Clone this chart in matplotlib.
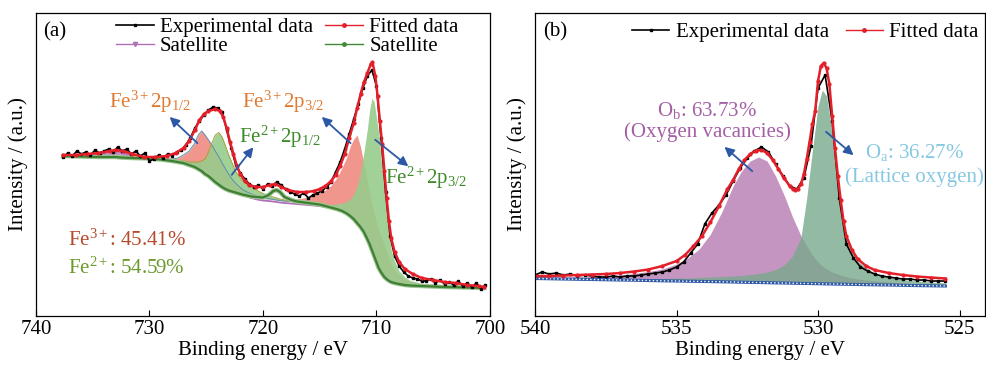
import numpy as np
import matplotlib
matplotlib.use('Agg')
import matplotlib.pyplot as plt
from matplotlib.lines import Line2D

plt.rcParams['font.family'] = ['Liberation Serif', 'DejaVu Serif']
plt.rcParams['font.size'] = 15
plt.rcParams['mathtext.fontset'] = 'custom'
plt.rcParams['mathtext.rm'] = 'Liberation Serif'
plt.rcParams['mathtext.it'] = 'Liberation Serif:italic'

# ---------------- (a) Fe 2p ----------------
# shared energy grid for background and fitted components
xa = [737.6, 736.0, 734.5, 733.5, 733.0, 732.5, 731.5, 730.0, 729.0, 728.0,
      727.5, 727.0, 726.5, 726.0, 725.7, 725.4, 725.1, 724.8, 724.5, 724.2,
      723.9, 723.6, 723.3, 723.0, 722.7, 722.4, 722.1, 721.8, 721.4, 721.0,
      720.5, 720.0, 719.5, 719.1, 718.8, 718.5, 718.1, 717.5, 717.0, 716.0,
      715.0, 714.5, 714.0, 713.5, 713.0, 712.6, 712.3, 712.0, 711.7, 711.4,
      711.1, 710.8, 710.6, 710.4, 710.2, 710.0, 709.8, 709.6, 709.3, 709.0,
      708.7, 708.4, 708.0, 707.5, 707.0, 706.0, 705.0, 704.0, 703.0, 702.0,
      701.0, 700.5]
base_a = [160, 159.5, 159, 159, 159, 158.5, 158, 157.5, 156.5, 155,
          154, 153, 151, 149, 147, 145, 142, 140, 137, 134,
          131.5, 129, 127, 125.5, 124.5, 123.5, 122.5, 121.5, 120.5, 119.5,
          118.5, 117.5, 117, 116.5, 116, 115.5, 115, 114.5, 114, 113,
          111.5, 110, 108.5, 107, 105, 102.5, 100, 97, 93, 89,
          84, 77, 72, 66, 60, 54, 48, 44, 39, 36,
          34, 33, 32, 31, 30.5, 30, 29.5, 29, 28.8, 28.5,
          28.2, 28]
# component heights above background
fe3_p12 = [0, 0, 0, 0, 0, 0, 0, 0.5, 1, 2,
           4, 8, 14, 24, 34, 40, 39, 36, 34, 31,
           28, 24, 20, 16, 12, 9, 7, 5, 3.5, 2.5,
           1.5, 1, 0.5, 0, 0, 0, 0, 0, 0, 0,
           0, 0, 0, 0, 0, 0, 0, 0, 0, 0,
           0, 0, 0, 0, 0, 0, 0, 0, 0, 0,
           0, 0, 0, 0, 0, 0, 0, 0, 0, 0,
           0, 0]
fe2_p12 = [0, 0, 0, 0, 0, 0, 0, 0, 0.5, 1,
           1.5, 2, 3, 5, 7, 10, 15, 24, 36, 47,
           52, 50, 43, 35, 28, 21, 17, 14, 11, 9,
           7, 5, 3.5, 2.5, 2, 1.5, 1, 0.5, 0, 0,
           0, 0, 0, 0, 0, 0, 0, 0, 0, 0,
           0, 0, 0, 0, 0, 0, 0, 0, 0, 0,
           0, 0, 0, 0, 0, 0, 0, 0, 0, 0,
           0, 0]
fe3_p32 = [0, 0, 0, 0, 0, 0, 0, 0, 0, 0,
           0, 0, 0, 0, 0, 0, 0, 0, 0, 0,
           0, 0, 0, 0, 0, 0, 0, 0, 0, 0,
           0, 0, 0, 0, 0.5, 0.5, 1, 2, 3, 6,
           12, 16, 22, 31, 44, 57, 70, 80, 88, 80,
           68, 58, 52, 46, 42, 40, 38, 36, 32, 25,
           18, 13, 9, 6, 4, 2, 1, 0.5, 0, 0,
           0, 0]
fe2_p32 = [0, 0, 0, 0, 0, 0, 0, 0, 0, 0,
           0, 0, 0, 0, 0, 0, 0, 0, 0, 0,
           0, 0, 0, 0, 0, 0, 0, 0, 0, 0,
           0, 0, 0, 0, 0, 0, 0, 0, 0, 1,
           1.5, 2, 3, 5, 8, 12, 17, 25, 37, 55,
           80, 110, 134, 152, 154, 145, 135, 115, 84, 54,
           32, 22, 13, 8, 5, 2.5, 1.5, 1, 0.5, 0,
           0, 0]
sat_fe3 = [0, 1, 3, 5, 6, 5, 2.5, 0.5, 0, 0,
           0, 0, 0, 0, 0, 0, 0, 0, 0, 0,
           0, 0, 0, 0, 0, 0, 0, -0.5, -1, -1.5,
           -2, -2, -2, -2, -2, -2, -2, -2, -2, -2,
           -1.5, -1, -0.5, 0, 0, 0, 0, 0, 0, 0,
           0, 0, 0, 0, 0, 0, 0, 0, 0, 0,
           0, 0, 0, 0, 0, 0, 0, 0, 0, 0,
           0, 0]
sat_fe2 = [0, 0, 0, 0, 0, 0, 0, 0, 0, 0,
           0, 0, 0, 0, 0, 0, 0, 0, 0, 0,
           0, 0, 0, 0, 0, 0, 0, 0, 0, 0,
           0.5, 1, 4, 8.5, 10, 8.5, 4, 1.5, 0.5, 0,
           0, 0, 0, 0, 0, 0, 0, 0, 0, 0,
           0, 0, 0, 0, 0, 0, 0, 0, 0, 0,
           0, 0, 0, 0, 0, 0, 0, 0, 0, 0,
           0, 0]

xa_fit = [737.6, 736.5, 735.5, 734.5, 733.5, 733.0, 732.3, 731.5, 730.5, 729.5,
          728.5, 727.7, 727.0, 726.5, 726.0, 725.6, 725.2, 724.8, 724.2, 723.8,
          723.5, 723.2, 722.9, 722.6, 722.3, 722.0, 721.6, 721.2, 720.6, 720.0,
          719.4, 718.9, 718.4, 717.8, 717.0, 716.2, 715.5, 715.0, 714.5, 714.0,
          713.6, 713.2, 712.8, 712.4, 712.0, 711.7, 711.4, 711.1, 710.8, 710.5,
          710.35, 710.1, 709.9, 709.7, 709.5, 709.3, 709.1, 708.9, 708.7, 708.4,
          708.0, 707.5, 706.8, 706.0, 705.0, 704.0, 703.0, 702.0, 701.0, 700.5]
ya_fit = [161, 161, 162, 163, 165, 166, 165, 162, 159, 159,
          160, 163, 168, 175, 186, 196, 202, 205, 207, 205,
          199, 188, 174, 162, 150, 142, 135, 131, 129, 129,
          131, 132, 129, 126, 124, 124, 125, 127, 130, 135,
          141, 150, 162, 178, 193, 208, 222, 234, 243, 252,
          254, 240, 220, 195, 172, 145, 118, 95, 78, 64,
          54, 47, 42, 38, 36, 34, 33, 31, 30, 29]

xa_exp = np.arange(737.6, 700.3, -0.4)
ya_exp = [159, 163, 160, 165, 162, 164, 161, 166, 163, 165,
          167, 164, 169, 165, 167, 162, 165, 160, 163, 155,
          157, 161, 158, 162, 160, 164, 166, 171, 178, 188,
          195, 201, 206, 209, 208, 204, 186, 168, 151, 143,
          137, 132, 129, 131, 127, 132, 130, 134, 131, 127,
          124, 122, 120, 123, 118, 121, 123, 125, 129, 134,
          144, 154, 167, 182, 197, 212, 228, 240, 246, 230,
          178, 124, 80, 60, 50, 44, 40, 38, 37, 35,
          35, 37, 33, 36, 32, 34, 31, 35, 30, 33,
          29, 33, 27, 31]

# ---------------- (b) O 1s ----------------
xb = [540.0, 539.0, 538.0, 537.0, 536.5, 536.0, 535.5, 535.0, 534.6, 534.2,
      533.8, 533.4, 533.0, 532.7, 532.4, 532.1, 531.8, 531.5, 531.2, 530.9,
      530.6, 530.4, 530.2, 530.0, 529.85, 529.7, 529.5, 529.3, 529.1, 528.9,
      528.6, 528.3, 528.0, 527.5, 527.0, 526.5, 526.0, 525.5]
base_b = [37.5, 37, 36.5, 36, 35.8, 35.5, 35.2, 35, 34.8, 34.6,
          34.4, 34.2, 34, 33.8, 33.6, 33.5, 33.3, 33.1, 33, 32.8,
          32.6, 32.5, 32.4, 32.3, 32.2, 32.1, 32, 31.9, 31.8, 31.7,
          31.5, 31.3, 31.2, 31, 30.7, 30.4, 30.2, 30]
o_b = [38.5, 39, 39.5, 41, 42.5, 44.5, 47, 52, 58, 67,
       82, 104, 130, 145, 155, 159, 155, 140, 121, 99,
       80, 70, 61, 54, 50, 47, 44, 42, 40, 38.5,
       37, 36, 35, 34, 33, 32, 31, 30.5]
o_a = [38, 38, 37.5, 37.5, 37.5, 37.5, 37.5, 38, 38, 38.5,
       39, 39.5, 40, 40.5, 41.5, 42.5, 44, 46.5, 51, 60,
       79, 118, 165, 210, 226, 220, 185, 130, 93, 70,
       55, 48, 43, 39, 36.5, 35, 34, 33]

xb_fit = [540.0, 539.5, 539.0, 538.5, 538.0, 537.5, 537.0, 536.5, 536.0, 535.5,
          535.0, 534.7, 534.4, 534.1, 533.8, 533.5, 533.2, 533.0, 532.8, 532.6,
          532.4, 532.2, 532.0, 531.8, 531.6, 531.4, 531.2, 531.0, 530.9, 530.8,
          530.7, 530.6, 530.5, 530.4, 530.3, 530.2, 530.1, 530.0, 529.9, 529.8,
          529.7, 529.6, 529.5, 529.4, 529.3, 529.2, 529.1, 529.0, 528.8, 528.6,
          528.3, 528.0, 527.5, 527.0, 526.5, 526.0, 525.5]
yb_fit = [40, 40, 40.5, 41, 41.5, 42, 43, 44.5, 46.5, 50,
          55, 61, 70, 80, 94, 110, 127, 136, 147, 156,
          162, 165.5, 166, 163, 156, 147, 138, 130, 127, 126,
          127.5, 132, 142, 157, 174, 192, 205, 235, 250, 253,
          248, 232, 200, 168, 140, 116, 95, 80, 66, 57,
          50, 46, 43, 41, 39.5, 38.5, 37.5]

xb_exp = np.arange(540.0, 525.4, -0.25)
yb_exp = [41, 44, 42, 43, 41, 42, 40, 41, 40, 39,
          39, 40, 39, 40, 40, 41, 42, 43, 44, 46,
          49, 54, 63, 72, 92, 103, 111, 121, 135, 148,
          158, 165, 169, 164, 152, 140, 130, 127, 138, 170,
          228, 241, 195, 118, 72, 58, 49, 45, 42, 40,
          39, 38, 37, 37, 36, 36, 35, 35, 35]

fig = plt.figure(figsize=(9.86, 3.65), dpi=100)
ax1 = fig.add_axes([0.0365, 0.1342, 0.4604, 0.8301])
ax2 = fig.add_axes([0.5426, 0.1342, 0.4564, 0.8301])

salmon = '#f0968c'
lgreen = '#98cc8c'
blue = '#2c58a6'

# --- panel a
ba = np.array(base_a)
ax1.fill_between(xa, ba, ba + np.array(fe3_p12), color=salmon, lw=0)
ax1.fill_between(xa, ba, ba + np.array(fe3_p32), color=salmon, lw=0)
ax1.fill_between(xa, ba, ba + np.array(fe2_p12), color=lgreen, alpha=0.9, lw=0)
ax1.fill_between(xa, ba, ba + np.array(fe2_p32), color=lgreen, alpha=0.9, lw=0)
ax1.plot(xa, ba + np.array(fe3_p12), color='#5a8fb0', lw=0.7)
ax1.plot(xa, ba + np.array(fe2_p12), color='#a6a23a', lw=0.7)
sp = np.array(sat_fe3)
ax1.fill_between(xa, ba, ba + sp, where=sp > 0, color='#c890c8', lw=0)
ax1.plot(xa, ba + sp, color='#b070b8', lw=1.3)
ax1.plot(xa, ba + np.array(sat_fe2), color='#9cc592', lw=3.2)
ax1.plot(xa, ba + np.array(sat_fe2), color='#3f7f32', lw=1.6)
ax1.plot(xa_exp, ya_exp, color='black', lw=1.2, marker='s', ms=2)
ax1.plot(xa_fit, ya_fit, color='#e3202a', lw=1.8, marker='o', ms=2)

ax1.set_xlim(740, 700)
ax1.set_ylim(0, 303)
ax1.set_xticks([740, 730, 720, 710, 700])
ax1.set_yticks([])

# --- panel b
bb = np.array(base_b)
ax2.plot(xb_exp, yb_exp, color='black', lw=1.2, marker='s', ms=2)
ax2.fill_between(xb, bb, o_b, color='#bb83b8', alpha=0.85, lw=0)
ax2.fill_between(xb, bb, o_a, color='#78a98c', alpha=0.8, lw=0)
ax2.plot(xb, bb, color=blue, lw=2.2)
ax2.plot(xb, bb, color='white', lw=1, ls=':')
ax2.plot(xb_fit, yb_fit, color='#e3202a', lw=1.8, marker='o', ms=2)

ax2.set_xlim(540, 524.1)
ax2.set_ylim(0, 303)
ax2.set_xticks([540, 535, 530, 525])
ax2.set_yticks([])

for ax in (ax1, ax2):
    ax.tick_params(direction='in', length=4, width=0.8, labelsize=15, pad=3)
    ax.set_xlabel('Binding energy / eV', fontsize=15, labelpad=1)
    ax.set_ylabel('Intensity / (a.u.)', fontsize=15, labelpad=6)
    for s in ax.spines.values():
        s.set_linewidth(0.9)

ax1.text(0.015, 0.937, '(a)', transform=ax1.transAxes, va='center', fontsize=15)
ax2.text(0.017, 0.937, '(b)', transform=ax2.transAxes, va='center', fontsize=15)

h_exp = Line2D([], [], color='black', lw=1.2, marker='s', ms=2)
h_fit = Line2D([], [], color='#e3202a', lw=1, marker='o', ms=2.5)
h_sp = Line2D([], [], color='#b070b8', lw=1, marker='v', ms=3)
h_sg = Line2D([], [], color='#3f8a32', lw=1, marker='o', ms=2.5)
ax1.legend([h_exp, h_sp, h_fit, h_sg],
           ['Experimental data', 'Satellite', 'Fitted data', 'Satellite'],
           ncol=2, loc='upper left', bbox_to_anchor=(0.158, 1.012), frameon=False,
           handlelength=1.8, handletextpad=0.3, columnspacing=0.6,
           labelspacing=-0.03, borderaxespad=0, fontsize=15)
ax2.legend([h_exp, h_fit], ['Experimental data', 'Fitted data'],
           ncol=2, loc='upper left', bbox_to_anchor=(0.197, 0.995), frameon=False,
           handlelength=1.8, handletextpad=0.3, columnspacing=0.8,
           borderaxespad=0, fontsize=15)

arrow = dict(arrowstyle='-|>', color=blue, lw=1.3, mutation_scale=14)
orange = '#e07a30'
dgreen = '#3f8a2a'

ax1.annotate('', xy=(728.4, 201), xytext=(725.6, 171), arrowprops=arrow)
ax1.annotate('', xy=(715.0, 201), xytext=(712.1, 171), arrowprops=arrow)
ax1.annotate('', xy=(720.7, 171), xytext=(722.9, 139), arrowprops=arrow)
ax1.annotate('', xy=(707.0, 148), xytext=(710.3, 178), arrowprops=arrow)
ax1.text(729.9, 214, 'Fe$^{3+}$2p$_{1/2}$', color=orange, ha='center', va='center')
ax1.text(718.2, 214, 'Fe$^{3+}$2p$_{3/2}$', color=orange, ha='center', va='center')
ax1.text(718.5, 179, 'Fe$^{2+}$2p$_{1/2}$', color=dgreen, ha='center', va='center')
ax1.text(705.6, 138, 'Fe$^{2+}$2p$_{3/2}$', color=dgreen, ha='center', va='center')
ax1.text(737.2, 76, 'Fe$^{3+}$: 45.41%', color='#b8482c', ha='left', va='center')
ax1.text(737.2, 48, 'Fe$^{2+}$: 54.59%', color='#6c9a2c', ha='left', va='center')

ax2.annotate('', xy=(533.38, 171), xytext=(532.25, 143), arrowprops=arrow)
ax2.annotate('', xy=(528.67, 159), xytext=(529.79, 186), arrowprops=arrow)
purple = '#a45ea5'
lblue = '#86c8e2'
ax2.text(533.94, 206, 'O$_\\mathrm{b}$: 63.73%', color=purple, ha='center', va='center')
ax2.text(533.9, 184, '(Oxygen vacancies)', color=purple, ha='center', va='center')
ax2.text(526.58, 164, 'O$_\\mathrm{a}$: 36.27%', color=lblue, ha='center', va='center')
ax2.text(526.6, 139, '(Lattice oxygen)', color=lblue, ha='center', va='center')

fig.savefig('out.png', dpi=100)
